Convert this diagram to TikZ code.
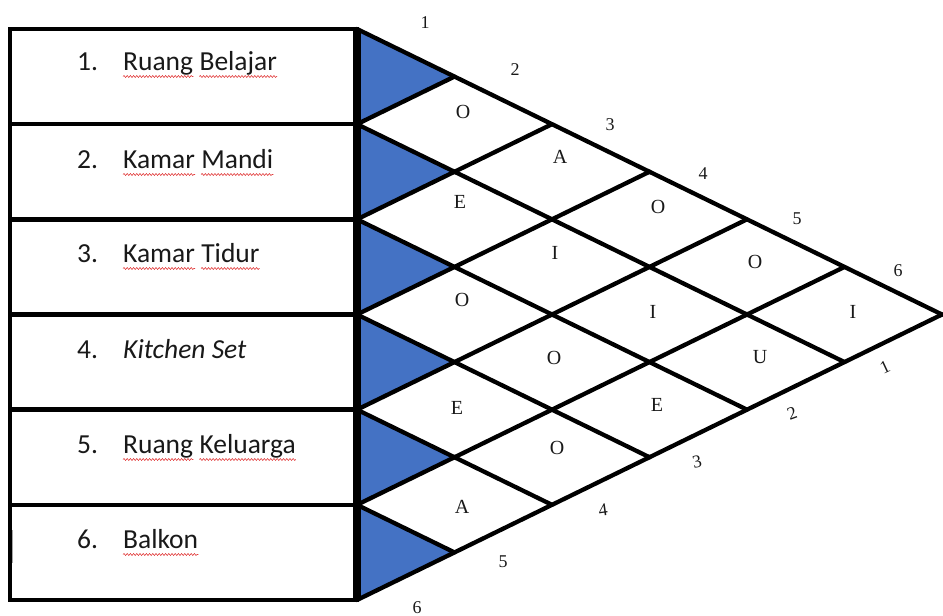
\documentclass[tikz,border=0pt]{standalone}
\usepackage{fontspec}
\setmainfont{Liberation Serif}
\newfontfamily\calfont{Carlito}
\usetikzlibrary{calc,decorations.pathmorphing}
\definecolor{cellblue}{RGB}{68,114,196}
\definecolor{wavered}{RGB}{225,60,60}
\begin{document}
\begin{tikzpicture}[x=1pt,y=-1pt,
  boxline/.style={line width=4.5pt, line join=miter},
  gridline/.style={line width=4.3pt, line cap=round},
  leftedge/.style={line width=8pt},
  bluecell/.style={fill=cellblue, draw=none},
  roomtxt/.style={inner sep=0pt, anchor=base west, font=\calfont\fontsize{27.5}{30}\selectfont, text=black!90},
  cellletter/.style={inner sep=0pt, font=\fontsize{20}{22}\selectfont, text=black!90},
  edgenum/.style={inner sep=0pt, font=\fontsize{18}{20}\selectfont, text=black!90},
  spell/.style={draw=wavered, line width=0.6pt, decorate, decoration={snake, amplitude=1pt, segment length=3.2pt}}]
\path[use as bounding box] (0,0) rectangle (943,616);
\def\dx{97.5}
\def\dy{47.5833}
% left lattice points
\foreach \k in {0,...,6}{
  \coordinate (L\k) at (357,{29+2*\dy*\k});
}
% blue half cells
\foreach \k [evaluate=\k as \kk using int(\k+1)] in {0,...,5}{
  \fill[bluecell] (L\k) -- (L\kk) -- ($(L\k)+(\dx,\dy)$) -- cycle;
}
% grid lines (down-right)
\foreach \k [evaluate=\k as \n using 6-\k] in {0,...,5}{
  \draw[gridline] (L\k) -- ($(L\k)+(\n*\dx,\n*\dy)$);
}
% grid lines (up-right)
\foreach \k in {1,...,6}{
  \draw[gridline] (L\k) -- ($(L\k)+(\k*\dx,-\k*\dy)$);
}
% boxes
\draw[boxline] (10,29) rectangle (357,600);
\foreach \k in {1,...,5}{
  \draw[boxline] (10,{29+2*\dy*\k}) -- (L\k);
}
\draw[leftedge] (L0) -- (L6);
% cursor mark
\draw[gray!70, line width=0.9pt] (12.5,530) -- (12.5,563);
% room labels
\node[roomtxt] (n1) at (77,70) {1.};
\node[roomtxt] (r1a) at (123,70) {Ruang};
\node[roomtxt] (r1b) at ($(r1a.base east)+(6,0)$) {Belajar};
\node[roomtxt] (n2) at (77,168) {2.};
\node[roomtxt] (r2a) at (123,168) {Kamar};
\node[roomtxt] (r2b) at ($(r2a.base east)+(6,0)$) {Mandi};
\node[roomtxt] (n3) at (77,262) {3.};
\node[roomtxt] (r3a) at (123,262) {Kamar};
\node[roomtxt] (r3b) at ($(r3a.base east)+(6,0)$) {Tidur};
\node[roomtxt] (n4) at (77,358) {4.};
\node[roomtxt] (r4a) at (123,358) {\itshape Kitchen Set};
\node[roomtxt] (n5) at (77,453) {5.};
\node[roomtxt] (r5a) at (123,453) {Ruang};
\node[roomtxt] (r5b) at ($(r5a.base east)+(6,0)$) {Keluarga};
\node[roomtxt] (n6) at (77,548) {6.};
\node[roomtxt] (r6a) at (123,548) {Balkon};
% spell-check underlines
\foreach \w in {r1a,r1b,r2a,r2b,r3a,r3b,r5a,r5b,r6a}{
  \draw[spell] ($(\w.base west)+(0,6.5)$) -- ($(\w.base east)+(0,6.5)$);
}
% cell letters
\foreach \x/\y/\t [count=\i] in {463/112/O, 560/157/A, 658/207/O, 755/262/O, 853/312/I,
  460/202/E, 555/253/I, 653/312/I, 760/357/U,
  462/300/O, 554/358/O, 657/405/E,
  457/408/E, 557/448/O,
  462/507/A}{
  \node[cellletter] (c\i) at (\x,\y) {\t};
}
% top edge numbers
\foreach \x/\y/\t in {425/23/1, 515/70/2, 610/125/3, 703/174/4, 797/219/5, 898/271/6}{
  \node[edgenum] (t\t) at (\x,\y) {\t};
}
% bottom edge numbers
\foreach \x/\y/\t/\r in {885/367/1/25, 792/413/2/20, 697/462/3/12, 603/510/4/8, 503/562/5/0, 417/608/6/0}{
  \node[edgenum, rotate=\r] (b\t) at (\x,\y) {\t};
}
\end{tikzpicture}
\end{document}
